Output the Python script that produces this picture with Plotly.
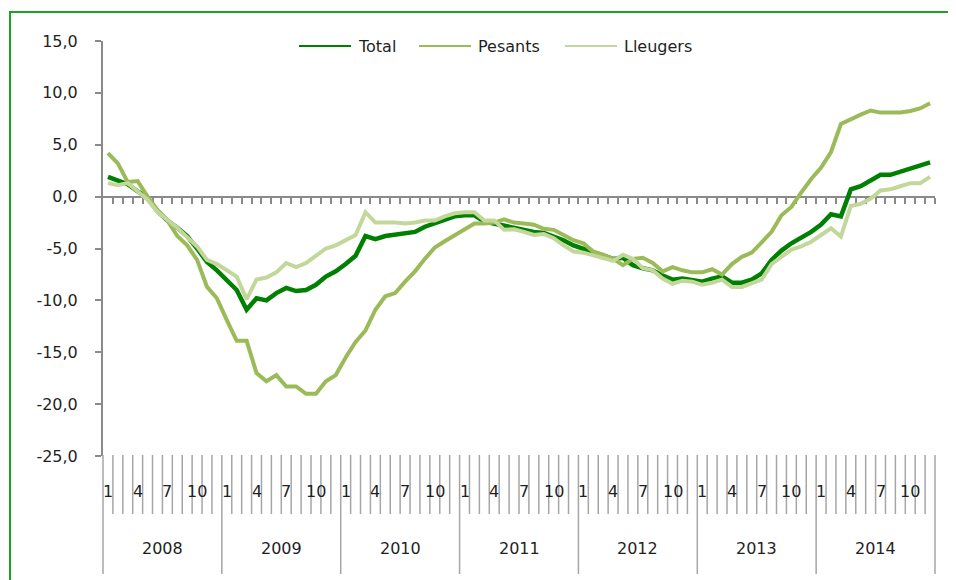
import plotly.graph_objects as go

# ---------------- data ----------------
years = ["2008", "2009", "2010", "2011", "2012", "2013", "2014"]
months_per_year = 12
labeled_months = [1, 4, 7, 10]

total = [1.9, 1.6, 1.2, 0.5, -0.1, -1.4, -2.3, -3.0, -3.8, -5.0, -6.3, -7.1,
         -8.0, -9.0, -10.9, -9.8, -10.0, -9.3, -8.8, -9.1, -9.0, -8.5, -7.7, -7.2,
         -6.5, -5.7, -3.8, -4.1, -3.8, -3.7, -3.6, -3.4, -2.9, -2.6, -2.2, -1.9,
         -1.8, -1.8, -2.4, -2.6, -2.9, -3.0, -3.2, -3.4, -3.5, -3.8, -4.2, -4.7,
         -5.0, -5.3, -5.7, -6.0, -5.9, -6.6, -6.9, -7.1, -7.6, -8.0, -7.9, -8.0,
         -8.2, -7.9, -7.7, -8.3, -8.3, -8.0, -7.4, -6.1, -5.2, -4.5, -4.0, -3.4,
         -2.7, -1.7, -1.9, 0.7, 1.0, 1.5, 2.1, 2.1, 2.4, 2.7, 2.9, 3.3]

pesants = [4.2, 3.2, 1.4, 1.5, 0.0, -1.3, -2.3, -3.8, -4.7, -6.1, -8.7, -9.8,
           -11.9, -13.9, -13.9, -17.0, -17.8, -17.2, -18.3, -18.3, -19.0, -19.0, -17.8, -17.2,
           -15.5, -14.0, -12.9, -10.9, -9.6, -9.3, -8.2, -7.2, -6.0, -4.9, -4.3, -3.7,
           -3.1, -2.6, -2.6, -2.5, -2.2, -2.5, -2.6, -2.7, -3.1, -3.2, -3.7, -4.2,
           -4.5, -5.3, -5.6, -6.0, -6.6, -6.0, -5.9, -6.4, -7.2, -6.8, -7.1, -7.3,
           -7.3, -7.0, -7.5, -6.5, -5.8, -5.4, -4.4, -3.4, -1.8, -1.0, 0.4, 1.7,
           2.8, 4.3, 7.0, 7.5, 7.9, 8.3, 8.1, 8.1, 8.1, 8.25, 8.5, 9.0]

lleugers = [1.3, 1.1, 1.3, 0.5, -0.3, -1.5, -2.2, -3.0, -3.9, -4.8, -6.1, -6.5,
            -7.1, -7.7, -9.9, -8.0, -7.8, -7.3, -6.4, -6.8, -6.4, -5.7, -5.0, -4.7,
            -4.2, -3.7, -1.5, -2.5, -2.5, -2.5, -2.6, -2.5, -2.3, -2.3, -1.9, -1.6,
            -1.5, -1.5, -2.3, -2.3, -3.2, -3.15, -3.4, -3.7, -3.6, -4.0, -4.7, -5.3,
            -5.4, -5.7, -6.0, -6.2, -5.6, -6.0, -6.9, -7.1, -7.9, -8.4, -8.1, -8.2,
            -8.5, -8.3, -8.0, -8.7, -8.7, -8.4, -8.0, -6.5, -5.8, -5.1, -4.8, -4.35,
            -3.7, -3.05, -3.85, -0.9, -0.7, -0.2, 0.6, 0.7, 1.0, 1.3, 1.3, 1.9]

series_names = ["Total", "Pesants", "Lleugers"]
y_tick_vals = [15, 10, 5, 0, -5, -10, -15, -20, -25]
y_tick_text = ["15,0", "10,0", "5,0", "0,0", "-5,0", "-10,0", "-15,0", "-20,0", "-25,0"]

# ---------------- styling ----------------
FONT = "DejaVu Sans"
TXT = "#1f1f1f"
AXIS = "#8a8a8a"
SEP = "#a6a6a6"
colors = ["#008000", "#9BBB59", "#C4D79B"]
widths = [4.5, 4, 4]

n = len(total)
xs = [i + 0.5 for i in range(n)]
y_min, y_max = -25, 15

# page offset (browser body margin)
OFF = 8
PAGE_W, PAGE_H = 956, 580
W, H = PAGE_W - OFF, PAGE_H - OFF
# plot area in page pixels
L, R, T, B = 103, 935, 41, 456
ph = B - T
pw = R - L


def py(pix):
    return (B - pix) / ph


def px(pix):
    return (pix - L) / pw


fig = go.Figure()
for name, vals, c, w in zip(series_names, [total, pesants, lleugers], colors, widths):
    fig.add_trace(go.Scatter(x=xs, y=vals, mode="lines", name=name,
                             line=dict(color=c, width=w), showlegend=False,
                             hoverinfo="skip"))

shapes = []
# month / year separators in label band
for j in range(n + 1):
    is_year = (j % months_per_year == 0)
    shapes.append(dict(type="line", xref="paper", yref="paper",
                       x0=j / n, x1=j / n, y0=py(455),
                       y1=py(574) if is_year else py(514),
                       line=dict(color=SEP, width=1.5)))
# outer green border
shapes.append(dict(type="rect", xref="paper", yref="paper",
                   x0=px(10), x1=px(970), y0=py(12), y1=py(600),
                   line=dict(color="#22a022", width=2), fillcolor="rgba(0,0,0,0)"))

annotations = []
for yi, yr in enumerate(years):
    for m in labeled_months:
        idx = yi * months_per_year + (m - 1)
        annotations.append(dict(x=xs[idx], y=py(491), xref="x", yref="paper",
                                text=str(m), showarrow=False,
                                xanchor="center", yanchor="middle",
                                font=dict(family=FONT, size=16, color=TXT)))
    annotations.append(dict(x=yi * months_per_year + months_per_year / 2, y=py(548),
                            xref="x", yref="paper", text=yr, showarrow=False,
                            xanchor="center", yanchor="middle",
                            font=dict(family=FONT, size=16, color=TXT)))

# legend (drawn manually to match the reference spacing)
legend_line_x = [299, 419, 565]
legend_len = 52
legend_y = 46
for name, c, lx in zip(series_names, colors, legend_line_x):
    shapes.append(dict(type="line", xref="paper", yref="paper",
                       x0=px(lx), x1=px(lx + legend_len), y0=py(legend_y), y1=py(legend_y),
                       line=dict(color=c, width=2)))
    annotations.append(dict(x=px(lx + legend_len + 5), y=py(legend_y), xref="paper", yref="paper",
                            text=name, showarrow=False, xanchor="left", yanchor="middle",
                            font=dict(family=FONT, size=16, color=TXT)))

fig.update_layout(
    width=W, height=H, autosize=False,
    margin=dict(l=L - OFF, r=W - (R - OFF), t=T - OFF, b=H - (B - OFF), pad=0, autoexpand=False),
    paper_bgcolor="white", plot_bgcolor="white",
    font=dict(family=FONT, size=16, color=TXT),
    showlegend=False,
    xaxis=dict(range=[0, n], showgrid=False, zeroline=False,
               anchor="free", position=(0 - y_min) / (y_max - y_min),
               showline=True, linecolor=AXIS, linewidth=2,
               ticks="outside", tickvals=list(range(1, n + 1)), ticklen=6,
               tickwidth=1.5, tickcolor=AXIS, showticklabels=False,
               layer="below traces", fixedrange=True),
    yaxis=dict(range=[y_min, y_max], showgrid=False, zeroline=False,
               showline=True, linecolor=AXIS, linewidth=2,
               ticks="outside", ticklen=6, tickwidth=1.5, tickcolor=AXIS,
               tickvals=y_tick_vals, ticktext=y_tick_text,
               ticklabelstandoff=14, layer="below traces", fixedrange=True),
    shapes=shapes,
    annotations=annotations,
)

fig.write_html("out.html")
